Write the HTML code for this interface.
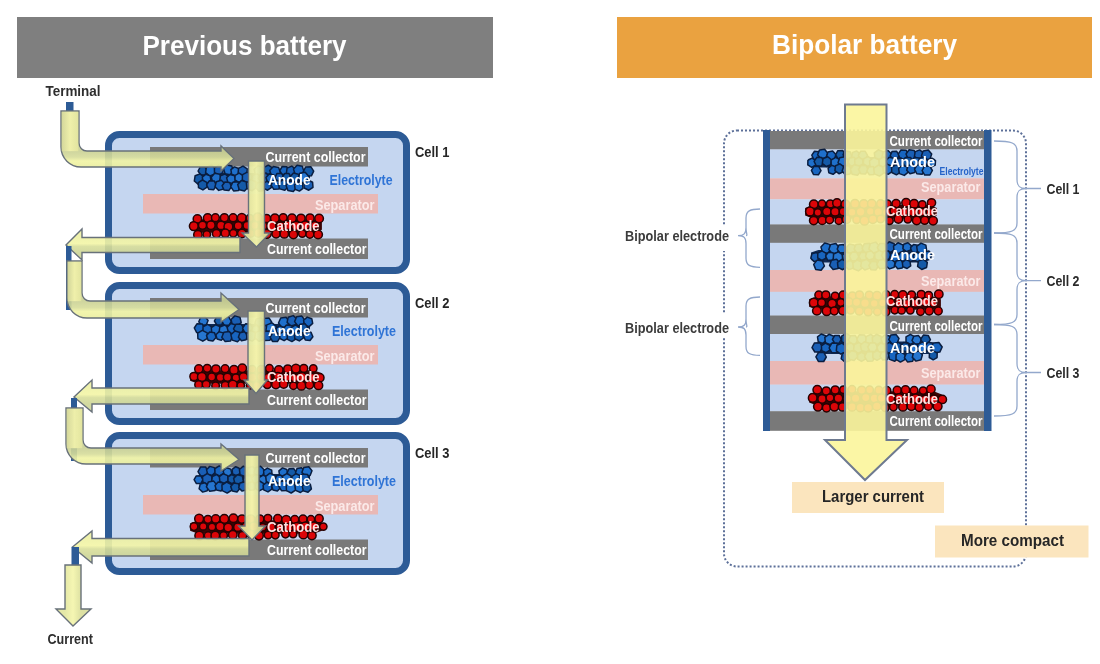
<!DOCTYPE html>
<html><head><meta charset="utf-8"><style>
html,body{margin:0;padding:0;background:#fff;width:1100px;height:664px;overflow:hidden;position:relative;font-family:"Liberation Sans",sans-serif;}
</style></head><body>
<svg width="1100" height="664" viewBox="0 0 1100 664" style="position:absolute;left:0;top:0;filter:blur(0.45px)">
<defs>
<linearGradient id="ag" x1="0" y1="0" x2="0" y2="1"><stop offset="0" stop-color="#dcdc92"/><stop offset="0.55" stop-color="#f8f59a"/><stop offset="1" stop-color="#ecea98"/></linearGradient>
<linearGradient id="agv" x1="0" y1="0" x2="1" y2="0"><stop offset="0" stop-color="#dcdc92"/><stop offset="0.55" stop-color="#f8f59a"/><stop offset="1" stop-color="#ecea98"/></linearGradient>
</defs>
<g font-family='"Liberation Sans", sans-serif'>
<rect x="17" y="17" width="476" height="61" fill="#7f7f7f"/>
<text x="142.5" y="54.5" font-size="27" fill="#ffffff" font-weight="bold" text-anchor="start" textLength="204" lengthAdjust="spacingAndGlyphs">Previous battery</text>
<rect x="617" y="17" width="475" height="61" fill="#eaa240"/>
<text x="772" y="53.5" font-size="27" fill="#ffffff" font-weight="bold" text-anchor="start" textLength="185" lengthAdjust="spacingAndGlyphs">Bipolar battery</text>
<text x="45.5" y="95.6" font-size="14" fill="#2e2e2e" font-weight="bold" text-anchor="start" textLength="55" lengthAdjust="spacingAndGlyphs">Terminal</text>
<text x="47.5" y="644" font-size="14" fill="#2e2e2e" font-weight="bold" text-anchor="start" textLength="45.5" lengthAdjust="spacingAndGlyphs">Current</text>
<g transform="translate(0,0)">
<rect x="108.5" y="134.5" width="298" height="136" rx="11" fill="#c5d6f0" stroke="#2d5b96" stroke-width="7"/>
<rect x="150" y="147" width="218" height="19.5" fill="#797979"/>
<rect x="143" y="194" width="235" height="19.5" fill="#e9b8b5"/>
<rect x="150" y="238.5" width="218" height="20.5" fill="#797979"/>
<g stroke="#0a1e40" stroke-width="1.5" stroke-linejoin="round"><polygon points="196.0,175.1 203.1,173.0 210.2,173.0 217.4,173.0 224.5,173.0 231.6,173.0 238.8,173.0 245.9,173.0 253.0,173.0 260.1,173.0 267.2,173.0 274.4,173.0 281.5,173.0 288.6,173.0 295.8,173.0 302.9,173.0 310.0,175.1 310.0,181.4 302.9,183.5 295.8,183.5 288.6,183.5 281.5,183.5 274.4,183.5 267.2,183.5 260.1,183.5 253.0,183.5 245.9,183.5 238.8,183.5 231.6,183.5 224.5,183.5 217.4,183.5 210.2,183.5 203.1,183.5 196.0,181.4" fill="#0f2a55" stroke="none"/><polygon points="200.6,174.9 198.1,171.0 200.2,167.0 204.7,166.7 207.2,170.6 205.1,174.7" fill="#145aa8"/><polygon points="215.0,174.0 209.8,176.0 205.6,172.6 206.4,167.2 211.5,165.2 215.8,168.6" fill="#1f70cc"/><polygon points="214.5,172.7 214.4,167.8 218.6,165.3 222.9,167.7 223.0,172.6 218.8,175.1" fill="#1a5fb5"/><polygon points="230.1,174.7 225.1,173.7 223.5,168.8 226.8,165.0 231.8,166.0 233.4,170.8" fill="#1f70cc"/><polygon points="239.4,173.0 235.8,175.9 231.6,174.2 230.9,169.7 234.4,166.9 238.7,168.5" fill="#1f70cc"/><polygon points="246.9,174.0 242.4,176.2 238.1,173.4 238.5,168.3 243.0,166.1 247.3,168.9" fill="#1a5fb5"/><polygon points="260.3,176.0 255.3,174.5 254.1,169.4 258.0,165.8 262.9,167.4 264.1,172.4" fill="#2676d0"/><polygon points="272.0,172.4 267.9,174.6 263.9,172.1 264.1,167.4 268.3,165.2 272.2,167.7" fill="#145aa8"/><polygon points="271.5,175.8 269.7,170.6 273.3,166.5 278.7,167.6 280.4,172.8 276.8,176.9" fill="#1865c0"/><polygon points="286.6,174.6 282.0,174.5 279.8,170.5 282.2,166.5 286.8,166.7 289.0,170.7" fill="#1865c0"/><polygon points="286.4,173.1 287.1,168.0 291.8,166.1 295.8,169.2 295.2,174.2 290.5,176.2" fill="#1a5fb5"/><polygon points="303.9,171.4 300.3,175.4 295.1,174.2 293.5,169.1 297.1,165.2 302.3,166.3" fill="#1865c0"/><polygon points="306.1,176.1 303.3,171.7 305.6,167.0 310.8,166.7 313.7,171.1 311.4,175.8" fill="#145aa8"/><polygon points="194.3,181.0 195.1,175.8 200.1,173.9 204.1,177.3 203.2,182.5 198.3,184.3" fill="#145aa8"/><polygon points="210.9,180.4 207.3,183.3 203.0,181.7 202.3,177.1 205.9,174.2 210.2,175.9" fill="#1f70cc"/><polygon points="218.0,183.3 212.8,182.2 211.2,177.2 214.7,173.2 219.8,174.3 221.5,179.3" fill="#1f70cc"/><polygon points="223.5,183.8 219.7,180.7 220.4,175.8 225.0,174.0 228.9,177.1 228.1,182.0" fill="#1a5fb5"/><polygon points="232.5,183.6 227.9,182.4 226.6,177.8 230.0,174.5 234.6,175.7 235.8,180.2" fill="#1f70cc"/><polygon points="242.9,180.1 238.8,182.3 234.9,179.9 235.1,175.3 239.1,173.1 243.0,175.5" fill="#2676d0"/><polygon points="251.6,180.5 246.8,182.9 242.3,180.0 242.5,174.6 247.3,172.2 251.9,175.1" fill="#1a5fb5"/><polygon points="255.4,183.4 251.8,180.1 252.8,175.4 257.4,173.9 261.0,177.1 260.0,181.9" fill="#1a5fb5"/><polygon points="261.4,183.1 258.4,178.4 261.0,173.5 266.6,173.3 269.5,178.0 266.9,182.9" fill="#1a5fb5"/><polygon points="272.2,183.1 267.5,182.1 265.9,177.5 269.2,173.9 274.0,174.9 275.5,179.5" fill="#1865c0"/><polygon points="274.8,177.7 276.9,173.6 281.5,173.4 284.0,177.2 281.9,181.4 277.3,181.6" fill="#1a5fb5"/><polygon points="291.3,177.5 289.0,181.3 284.6,181.3 282.3,177.4 284.6,173.6 289.0,173.6" fill="#145aa8"/><polygon points="299.9,179.1 296.4,182.9 291.4,181.8 289.9,176.9 293.4,173.1 298.4,174.2" fill="#145aa8"/><polygon points="301.7,182.7 298.0,178.6 299.8,173.3 305.2,172.2 308.9,176.4 307.1,181.6" fill="#2676d0"/><polygon points="202.9,189.9 198.5,187.6 198.3,182.7 202.4,180.0 206.8,182.3 207.1,187.2" fill="#145aa8"/><polygon points="208.7,189.3 206.6,184.8 209.4,180.7 214.4,181.1 216.5,185.6 213.7,189.7" fill="#1a5fb5"/><polygon points="215.0,186.7 216.3,181.7 221.3,180.3 225.1,184.0 223.7,189.0 218.7,190.4" fill="#1865c0"/><polygon points="228.8,190.6 224.1,190.1 222.1,185.8 224.9,182.0 229.6,182.5 231.5,186.8" fill="#1a5fb5"/><polygon points="233.6,190.9 230.7,186.8 232.8,182.3 237.8,181.8 240.7,185.9 238.6,190.4" fill="#1f70cc"/><polygon points="239.3,189.7 237.7,184.6 241.4,180.6 246.6,181.9 248.2,187.0 244.5,190.9" fill="#145aa8"/><polygon points="247.0,188.6 246.3,183.0 250.7,179.6 255.9,181.7 256.6,187.3 252.2,190.7" fill="#1a5fb5"/><polygon points="255.6,187.6 257.2,183.0 262.1,182.0 265.3,185.7 263.7,190.4 258.9,191.3" fill="#145aa8"/><polygon points="267.6,190.2 263.5,188.3 263.1,183.8 266.8,181.2 270.9,183.1 271.3,187.6" fill="#1a5fb5"/><polygon points="273.8,189.3 271.1,185.1 273.4,180.7 278.4,180.5 281.1,184.7 278.8,189.1" fill="#1865c0"/><polygon points="279.7,188.9 278.3,183.7 282.1,179.9 287.2,181.3 288.6,186.5 284.8,190.3" fill="#145aa8"/><polygon points="287.9,190.5 286.0,185.3 289.5,181.0 295.0,182.0 296.9,187.2 293.3,191.4" fill="#1865c0"/><polygon points="303.0,188.3 299.4,191.1 295.1,189.3 294.6,184.8 298.2,182.0 302.5,183.8" fill="#1f70cc"/><polygon points="308.8,190.2 304.2,188.0 303.8,182.9 308.0,180.0 312.6,182.2 313.0,187.3" fill="#1a5fb5"/></g>
<g fill="#dc0508" stroke="#260202" stroke-width="1.5"><polygon points="190.1,222.3 198.3,219.3 206.6,219.3 214.8,219.3 223.1,219.3 231.3,219.3 239.5,219.3 247.8,219.3 256.0,219.3 264.2,219.3 272.5,219.3 280.7,219.3 288.9,219.3 297.2,219.3 305.4,219.3 313.7,219.3 321.9,222.3 321.9,229.7 313.7,232.7 305.4,232.7 297.2,232.7 288.9,232.7 280.7,232.7 272.5,232.7 264.2,232.7 256.0,232.7 247.8,232.7 239.5,232.7 231.3,232.7 223.1,232.7 214.8,232.7 206.6,232.7 198.3,232.7 190.1,229.7" fill="#3a0505" stroke="none"/><circle cx="197.4" cy="218.9" r="4.2"/><circle cx="207.7" cy="218.0" r="4.3"/><circle cx="215.4" cy="217.7" r="3.9"/><circle cx="224.4" cy="217.7" r="4.0"/><circle cx="233.1" cy="217.8" r="4.0"/><circle cx="241.8" cy="218.0" r="4.4"/><circle cx="249.8" cy="218.1" r="3.7"/><circle cx="257.7" cy="217.2" r="4.3"/><circle cx="266.5" cy="218.5" r="4.1"/><circle cx="274.9" cy="218.2" r="4.3"/><circle cx="283.2" cy="217.6" r="3.9"/><circle cx="292.0" cy="218.2" r="4.3"/><circle cx="301.0" cy="218.3" r="4.1"/><circle cx="310.0" cy="218.0" r="4.1"/><circle cx="319.1" cy="218.5" r="4.3"/><circle cx="193.8" cy="226.1" r="4.4"/><circle cx="202.5" cy="225.3" r="4.0"/><circle cx="210.9" cy="225.2" r="4.2"/><circle cx="221.0" cy="225.4" r="4.2"/><circle cx="228.4" cy="226.7" r="4.4"/><circle cx="238.2" cy="225.8" r="4.0"/><circle cx="247.1" cy="225.4" r="4.0"/><circle cx="254.8" cy="225.5" r="3.9"/><circle cx="263.1" cy="226.1" r="4.0"/><circle cx="271.8" cy="226.2" r="4.1"/><circle cx="281.0" cy="226.5" r="4.4"/><circle cx="287.9" cy="225.2" r="4.3"/><circle cx="296.0" cy="225.9" r="4.4"/><circle cx="305.2" cy="225.4" r="4.4"/><circle cx="314.7" cy="225.3" r="3.7"/><circle cx="197.9" cy="234.7" r="4.2"/><circle cx="206.8" cy="234.5" r="3.7"/><circle cx="216.5" cy="233.6" r="4.1"/><circle cx="225.3" cy="233.2" r="4.1"/><circle cx="233.3" cy="233.3" r="3.7"/><circle cx="241.9" cy="233.5" r="4.3"/><circle cx="250.7" cy="233.3" r="3.9"/><circle cx="258.3" cy="233.0" r="4.2"/><circle cx="266.8" cy="233.9" r="4.4"/><circle cx="276.1" cy="233.8" r="4.1"/><circle cx="284.3" cy="233.9" r="4.2"/><circle cx="293.4" cy="234.5" r="4.2"/><circle cx="302.3" cy="233.6" r="3.7"/><circle cx="309.9" cy="234.3" r="3.9"/><circle cx="318.1" cy="234.5" r="4.3"/></g>
<text x="265.5" y="162" font-size="14" fill="#ffffff" font-weight="bold" text-anchor="start" textLength="100" lengthAdjust="spacingAndGlyphs">Current collector</text>
<text x="268" y="184.5" font-size="14" fill="#ffffff" font-weight="bold" text-anchor="start" textLength="42.5" lengthAdjust="spacingAndGlyphs">Anode</text>
<text x="329.5" y="184.5" font-size="14" fill="#2f74d6" font-weight="bold" text-anchor="start" textLength="63" lengthAdjust="spacingAndGlyphs">Electrolyte</text>
<text x="315" y="209.5" font-size="14" fill="#fbe9e8" font-weight="bold" text-anchor="start" textLength="59.5" lengthAdjust="spacingAndGlyphs">Separator</text>
<text x="267" y="230.5" font-size="14" fill="#fde0e0" font-weight="bold" text-anchor="start" textLength="52.5" lengthAdjust="spacingAndGlyphs">Cathode</text>
<text x="267" y="254" font-size="14" fill="#ffffff" font-weight="bold" text-anchor="start" textLength="99.5" lengthAdjust="spacingAndGlyphs">Current collector</text>
<text x="415" y="157" font-size="14" fill="#262626" font-weight="bold" text-anchor="start" textLength="34.5" lengthAdjust="spacingAndGlyphs">Cell 1</text>
<linearGradient id="g1" gradientUnits="userSpaceOnUse" x1="248.5" y1="0" x2="264.5" y2="0"><stop offset="0" stop-color="#e2e69e"/><stop offset="0.5" stop-color="#f4f5aa"/><stop offset="1" stop-color="#d9dd98"/></linearGradient>
<path d="M248.5,161 H264.5 V233 H270 L256.5,247 L242,233 H248.5 Z" fill="url(#g1)" fill-opacity="0.95" stroke="#68717a" stroke-width="1.4"/>
</g>
<g transform="translate(0,151)">
<rect x="108.5" y="134.5" width="298" height="136" rx="11" fill="#c5d6f0" stroke="#2d5b96" stroke-width="7"/>
<rect x="150" y="147" width="218" height="19.5" fill="#797979"/>
<rect x="143" y="194" width="235" height="19.5" fill="#e9b8b5"/>
<rect x="150" y="238.5" width="218" height="20.5" fill="#797979"/>
<g stroke="#0a1e40" stroke-width="1.5" stroke-linejoin="round"><polygon points="196.0,175.1 203.1,173.0 210.2,173.0 217.4,173.0 224.5,173.0 231.6,173.0 238.8,173.0 245.9,173.0 253.0,173.0 260.1,173.0 267.2,173.0 274.4,173.0 281.5,173.0 288.6,173.0 295.8,173.0 302.9,173.0 310.0,175.1 310.0,181.4 302.9,183.5 295.8,183.5 288.6,183.5 281.5,183.5 274.4,183.5 267.2,183.5 260.1,183.5 253.0,183.5 245.9,183.5 238.8,183.5 231.6,183.5 224.5,183.5 217.4,183.5 210.2,183.5 203.1,183.5 196.0,181.4" fill="#0f2a55" stroke="none"/><polygon points="206.3,173.8 201.6,174.4 198.8,170.7 200.6,166.3 205.2,165.7 208.1,169.5" fill="#2676d0"/><polygon points="214.4,170.0 216.6,165.8 221.3,165.6 223.9,169.6 221.7,173.9 216.9,174.1" fill="#145aa8"/><polygon points="229.0,174.3 224.3,174.3 222.0,170.3 224.4,166.3 229.0,166.3 231.3,170.3" fill="#1f70cc"/><polygon points="241.2,171.5 237.4,175.2 232.3,173.7 231.0,168.5 234.9,164.9 240.0,166.4" fill="#1a5fb5"/><polygon points="258.3,175.8 255.0,172.4 256.3,167.9 260.8,166.7 264.1,170.1 262.8,174.6" fill="#1a5fb5"/><polygon points="262.0,171.4 264.2,167.2 269.0,166.9 271.6,171.0 269.4,175.2 264.6,175.5" fill="#1f70cc"/><polygon points="281.8,176.4 278.5,172.0 280.7,167.0 286.1,166.3 289.4,170.7 287.3,175.7" fill="#1f70cc"/><polygon points="291.0,175.0 287.1,171.4 288.2,166.2 293.3,164.6 297.2,168.2 296.0,173.4" fill="#1a5fb5"/><polygon points="294.6,170.6 296.6,165.8 301.8,165.1 305.0,169.2 303.0,174.1 297.8,174.8" fill="#1865c0"/><polygon points="312.7,172.4 309.1,175.6 304.5,174.0 303.6,169.3 307.2,166.1 311.8,167.7" fill="#1865c0"/><polygon points="196.7,181.6 194.3,177.0 197.1,172.7 202.2,172.9 204.6,177.5 201.9,181.8" fill="#1865c0"/><polygon points="207.5,183.9 203.0,181.2 203.0,175.9 207.6,173.3 212.2,176.0 212.1,181.3" fill="#1865c0"/><polygon points="216.6,184.2 211.8,182.0 211.3,176.7 215.7,173.7 220.5,175.9 220.9,181.2" fill="#1f70cc"/><polygon points="228.2,182.4 223.3,184.4 219.1,181.3 219.8,176.0 224.6,174.0 228.8,177.1" fill="#2676d0"/><polygon points="237.6,179.1 233.8,183.0 228.6,181.7 227.1,176.5 230.8,172.6 236.1,173.9" fill="#1865c0"/><polygon points="236.4,182.2 233.5,177.9 235.8,173.3 240.9,172.9 243.8,177.2 241.6,181.8" fill="#145aa8"/><polygon points="244.8,181.8 242.6,177.1 245.5,172.8 250.7,173.3 252.9,177.9 250.0,182.2" fill="#2676d0"/><polygon points="258.8,182.0 254.4,182.9 251.5,179.5 252.9,175.3 257.3,174.4 260.2,177.7" fill="#2676d0"/><polygon points="263.2,182.9 259.2,180.3 259.4,175.6 263.7,173.4 267.7,176.0 267.4,180.8" fill="#1865c0"/><polygon points="270.3,182.9 265.9,179.4 266.8,173.9 272.0,171.9 276.3,175.4 275.5,180.9" fill="#2676d0"/><polygon points="280.7,183.6 276.6,181.9 276.1,177.5 279.6,174.8 283.7,176.5 284.2,180.9" fill="#2676d0"/><polygon points="290.3,184.4 284.8,183.4 282.8,178.2 286.4,173.9 291.9,174.8 293.8,180.0" fill="#1865c0"/><polygon points="300.1,181.4 295.9,184.2 291.3,182.0 290.9,177.0 295.1,174.1 299.8,176.3" fill="#1f70cc"/><polygon points="301.0,182.2 298.0,178.0 300.0,173.3 305.1,172.8 308.2,176.9 306.1,181.6" fill="#145aa8"/><polygon points="202.8,190.2 197.9,187.7 197.7,182.2 202.3,179.3 207.2,181.8 207.4,187.3" fill="#2676d0"/><polygon points="208.1,189.2 206.5,184.6 209.7,180.9 214.5,181.8 216.1,186.4 212.9,190.1" fill="#1865c0"/><polygon points="217.1,188.1 215.9,183.8 219.0,180.7 223.3,181.9 224.4,186.1 221.3,189.2" fill="#1f70cc"/><polygon points="230.6,189.9 225.2,190.6 221.8,186.3 223.9,181.2 229.3,180.5 232.7,184.8" fill="#1a5fb5"/><polygon points="232.2,189.1 230.9,183.8 234.9,180.0 240.2,181.5 241.5,186.8 237.5,190.7" fill="#1865c0"/><polygon points="238.4,186.2 239.9,181.7 244.5,180.8 247.6,184.3 246.1,188.8 241.5,189.8" fill="#1a5fb5"/><polygon points="247.2,188.1 246.4,182.9 250.6,179.5 255.5,181.5 256.3,186.7 252.2,190.1" fill="#2676d0"/><polygon points="259.1,190.3 254.8,186.8 255.6,181.4 260.8,179.4 265.1,182.9 264.2,188.3" fill="#2676d0"/><polygon points="264.7,189.6 261.8,185.2 264.1,180.5 269.4,180.1 272.4,184.5 270.0,189.2" fill="#1a5fb5"/><polygon points="277.4,190.6 272.5,190.4 270.1,186.1 272.8,181.8 277.7,182.0 280.1,186.4" fill="#145aa8"/><polygon points="284.1,189.7 279.9,187.5 279.7,182.9 283.6,180.3 287.8,182.4 288.0,187.1" fill="#1f70cc"/><polygon points="287.4,188.4 287.1,183.5 291.3,180.7 295.8,182.9 296.1,187.9 291.9,190.6" fill="#145aa8"/><polygon points="303.4,187.0 299.3,189.9 294.8,187.8 294.4,182.8 298.5,180.0 302.9,182.1" fill="#145aa8"/><polygon points="310.0,189.5 305.3,189.0 303.4,184.6 306.2,180.8 311.0,181.3 312.9,185.7" fill="#1865c0"/></g>
<g fill="#dc0508" stroke="#260202" stroke-width="1.5"><polygon points="190.1,222.3 198.3,219.3 206.6,219.3 214.8,219.3 223.1,219.3 231.3,219.3 239.5,219.3 247.8,219.3 256.0,219.3 264.2,219.3 272.5,219.3 280.7,219.3 288.9,219.3 297.2,219.3 305.4,219.3 313.7,219.3 321.9,222.3 321.9,229.7 313.7,232.7 305.4,232.7 297.2,232.7 288.9,232.7 280.7,232.7 272.5,232.7 264.2,232.7 256.0,232.7 247.8,232.7 239.5,232.7 231.3,232.7 223.1,232.7 214.8,232.7 206.6,232.7 198.3,232.7 190.1,229.7" fill="#3a0505" stroke="none"/><circle cx="198.8" cy="217.9" r="4.1"/><circle cx="207.2" cy="217.3" r="3.9"/><circle cx="215.9" cy="218.1" r="4.2"/><circle cx="225.1" cy="217.7" r="3.9"/><circle cx="234.0" cy="218.9" r="4.3"/><circle cx="242.3" cy="217.3" r="4.2"/><circle cx="252.2" cy="218.3" r="3.7"/><circle cx="261.5" cy="218.7" r="4.3"/><circle cx="269.4" cy="217.4" r="3.8"/><circle cx="278.8" cy="218.9" r="4.2"/><circle cx="287.8" cy="218.0" r="4.1"/><circle cx="295.9" cy="217.6" r="4.4"/><circle cx="303.8" cy="217.4" r="3.9"/><circle cx="313.3" cy="217.4" r="3.7"/><circle cx="194.0" cy="225.5" r="4.1"/><circle cx="201.9" cy="225.9" r="4.4"/><circle cx="211.7" cy="226.0" r="3.9"/><circle cx="220.2" cy="226.4" r="3.9"/><circle cx="227.4" cy="226.3" r="4.0"/><circle cx="236.0" cy="226.8" r="3.9"/><circle cx="243.5" cy="225.9" r="4.2"/><circle cx="252.6" cy="226.4" r="4.1"/><circle cx="261.2" cy="225.7" r="4.3"/><circle cx="268.1" cy="226.5" r="3.9"/><circle cx="277.8" cy="225.4" r="3.9"/><circle cx="286.6" cy="226.8" r="3.8"/><circle cx="294.3" cy="226.9" r="3.8"/><circle cx="302.1" cy="225.8" r="4.4"/><circle cx="312.3" cy="226.9" r="4.4"/><circle cx="319.8" cy="226.8" r="4.2"/><circle cx="198.7" cy="233.7" r="3.9"/><circle cx="206.2" cy="233.5" r="3.9"/><circle cx="215.6" cy="234.7" r="3.8"/><circle cx="225.3" cy="234.5" r="4.0"/><circle cx="232.8" cy="233.7" r="4.4"/><circle cx="240.8" cy="234.6" r="3.7"/><circle cx="250.1" cy="234.4" r="3.7"/><circle cx="256.9" cy="234.7" r="3.9"/><circle cx="267.3" cy="233.6" r="3.9"/><circle cx="275.9" cy="233.5" r="4.2"/><circle cx="283.7" cy="233.0" r="4.2"/><circle cx="293.4" cy="234.7" r="3.7"/><circle cx="301.4" cy="234.7" r="4.4"/><circle cx="309.5" cy="233.8" r="4.1"/><circle cx="318.5" cy="234.4" r="4.2"/></g>
<text x="265.5" y="162" font-size="14" fill="#ffffff" font-weight="bold" text-anchor="start" textLength="100" lengthAdjust="spacingAndGlyphs">Current collector</text>
<text x="268" y="184.5" font-size="14" fill="#ffffff" font-weight="bold" text-anchor="start" textLength="42.5" lengthAdjust="spacingAndGlyphs">Anode</text>
<text x="332" y="184.5" font-size="14" fill="#2f74d6" font-weight="bold" text-anchor="start" textLength="64" lengthAdjust="spacingAndGlyphs">Electrolyte</text>
<text x="315" y="209.5" font-size="14" fill="#fbe9e8" font-weight="bold" text-anchor="start" textLength="59.5" lengthAdjust="spacingAndGlyphs">Separator</text>
<text x="267" y="230.5" font-size="14" fill="#fde0e0" font-weight="bold" text-anchor="start" textLength="52.5" lengthAdjust="spacingAndGlyphs">Cathode</text>
<text x="267" y="254" font-size="14" fill="#ffffff" font-weight="bold" text-anchor="start" textLength="99.5" lengthAdjust="spacingAndGlyphs">Current collector</text>
<text x="415" y="157" font-size="14" fill="#262626" font-weight="bold" text-anchor="start" textLength="34.5" lengthAdjust="spacingAndGlyphs">Cell 2</text>
<linearGradient id="g2" gradientUnits="userSpaceOnUse" x1="248" y1="0" x2="264.5" y2="0"><stop offset="0" stop-color="#e2e69e"/><stop offset="0.5" stop-color="#f4f5aa"/><stop offset="1" stop-color="#d9dd98"/></linearGradient>
<path d="M248,160 H264.5 V229 H267.5 L256,242.5 L244,229 H248 Z" fill="url(#g2)" fill-opacity="0.95" stroke="#68717a" stroke-width="1.4"/>
</g>
<g transform="translate(0,301)">
<rect x="108.5" y="134.5" width="298" height="136" rx="11" fill="#c5d6f0" stroke="#2d5b96" stroke-width="7"/>
<rect x="150" y="147" width="218" height="19.5" fill="#797979"/>
<rect x="143" y="194" width="235" height="19.5" fill="#e9b8b5"/>
<rect x="150" y="238.5" width="218" height="20.5" fill="#797979"/>
<g stroke="#0a1e40" stroke-width="1.5" stroke-linejoin="round"><polygon points="196.0,175.1 203.1,173.0 210.2,173.0 217.4,173.0 224.5,173.0 231.6,173.0 238.8,173.0 245.9,173.0 253.0,173.0 260.1,173.0 267.2,173.0 274.4,173.0 281.5,173.0 288.6,173.0 295.8,173.0 302.9,173.0 310.0,175.1 310.0,181.4 302.9,183.5 295.8,183.5 288.6,183.5 281.5,183.5 274.4,183.5 267.2,183.5 260.1,183.5 253.0,183.5 245.9,183.5 238.8,183.5 231.6,183.5 224.5,183.5 217.4,183.5 210.2,183.5 203.1,183.5 196.0,181.4" fill="#0f2a55" stroke="none"/><polygon points="205.8,174.9 200.7,175.0 198.0,170.6 200.5,166.1 205.6,166.0 208.3,170.4" fill="#1a5fb5"/><polygon points="207.7,173.1 206.5,168.6 209.8,165.4 214.3,166.6 215.5,171.1 212.2,174.4" fill="#1865c0"/><polygon points="223.8,172.4 219.4,175.0 215.0,172.6 214.9,167.5 219.3,164.9 223.7,167.4" fill="#1865c0"/><polygon points="231.8,172.5 228.5,175.6 224.2,174.2 223.2,169.8 226.5,166.8 230.8,168.1" fill="#2676d0"/><polygon points="236.8,174.7 232.6,173.0 232.1,168.4 235.7,165.7 239.9,167.5 240.5,172.0" fill="#1a5fb5"/><polygon points="249.0,172.3 244.9,175.5 240.1,173.6 239.4,168.4 243.4,165.2 248.3,167.1" fill="#1a5fb5"/><polygon points="254.6,173.6 250.0,174.6 246.8,171.2 248.2,166.7 252.7,165.6 256.0,169.1" fill="#1f70cc"/><polygon points="257.8,175.8 253.9,172.0 255.2,166.7 260.5,165.2 264.4,169.0 263.1,174.3" fill="#1f70cc"/><polygon points="264.0,174.4 263.6,169.7 267.4,167.1 271.7,169.1 272.0,173.7 268.2,176.4" fill="#1865c0"/><polygon points="284.0,176.1 279.6,174.5 278.9,169.9 282.5,166.9 286.9,168.5 287.6,173.2" fill="#1f70cc"/><polygon points="287.1,172.0 289.0,167.8 293.6,167.4 296.3,171.2 294.3,175.4 289.7,175.8" fill="#145aa8"/><polygon points="298.6,175.5 295.5,172.0 297.0,167.6 301.5,166.7 304.6,170.2 303.1,174.5" fill="#1865c0"/><polygon points="305.1,175.2 301.9,171.2 303.8,166.5 308.8,165.7 312.0,169.7 310.1,174.5" fill="#1f70cc"/><polygon points="194.1,178.7 196.3,174.9 200.8,174.9 203.0,178.7 200.8,182.6 196.4,182.6" fill="#1f70cc"/><polygon points="202.8,180.9 202.5,175.5 207.1,172.6 211.8,175.1 212.1,180.5 207.6,183.4" fill="#1a5fb5"/><polygon points="219.9,181.2 215.5,183.1 211.7,180.2 212.3,175.5 216.6,173.6 220.5,176.5" fill="#1865c0"/><polygon points="219.9,180.5 219.3,175.6 223.3,172.7 227.7,174.6 228.3,179.5 224.4,182.4" fill="#1a5fb5"/><polygon points="235.8,180.3 231.9,182.6 228.0,180.4 228.0,175.9 231.8,173.6 235.8,175.8" fill="#145aa8"/><polygon points="239.9,183.8 234.9,182.4 233.6,177.4 237.3,173.7 242.3,175.1 243.6,180.1" fill="#145aa8"/><polygon points="252.9,179.1 250.2,183.2 245.3,182.9 243.1,178.6 245.8,174.5 250.7,174.8" fill="#1f70cc"/><polygon points="257.8,182.8 253.1,181.7 251.6,177.0 255.0,173.5 259.7,174.6 261.1,179.2" fill="#1f70cc"/><polygon points="259.2,181.6 259.0,176.7 263.1,174.1 267.5,176.4 267.7,181.3 263.5,183.9" fill="#2676d0"/><polygon points="275.5,179.7 271.2,182.8 266.3,180.7 265.7,175.4 270.0,172.2 274.9,174.4" fill="#2676d0"/><polygon points="277.6,182.4 274.8,178.9 276.5,174.7 280.9,174.1 283.7,177.6 282.0,181.8" fill="#1f70cc"/><polygon points="291.1,179.7 286.9,182.2 282.7,179.9 282.6,175.0 286.8,172.6 291.0,174.9" fill="#2676d0"/><polygon points="292.4,180.5 291.9,175.5 296.0,172.7 300.5,174.8 301.0,179.7 296.9,182.6" fill="#1f70cc"/><polygon points="309.7,178.6 306.4,182.9 301.0,182.1 299.0,177.1 302.3,172.9 307.6,173.6" fill="#1a5fb5"/><polygon points="199.1,187.8 200.2,183.1 204.8,181.7 208.4,185.0 207.3,189.7 202.7,191.1" fill="#1f70cc"/><polygon points="209.7,190.2 206.4,185.9 208.4,180.9 213.7,180.1 217.1,184.4 215.1,189.4" fill="#2676d0"/><polygon points="221.0,189.9 216.4,189.0 215.0,184.6 218.1,181.1 222.7,182.1 224.1,186.5" fill="#1865c0"/><polygon points="222.2,189.6 221.9,184.0 226.6,181.0 231.5,183.5 231.9,189.0 227.2,192.1" fill="#1865c0"/><polygon points="237.0,191.0 232.3,190.1 230.7,185.6 233.8,181.9 238.5,182.8 240.1,187.3" fill="#145aa8"/><polygon points="246.7,188.8 242.1,190.1 238.7,186.7 239.9,182.1 244.5,180.9 247.9,184.2" fill="#1a5fb5"/><polygon points="249.9,189.3 247.1,185.9 248.7,181.8 253.1,181.1 255.9,184.6 254.2,188.7" fill="#1a5fb5"/><polygon points="263.6,187.6 259.2,189.9 255.1,187.3 255.3,182.3 259.6,180.0 263.8,182.7" fill="#1f70cc"/><polygon points="263.6,188.9 263.1,184.1 267.0,181.2 271.4,183.2 271.9,188.1 268.0,190.9" fill="#1865c0"/><polygon points="273.0,189.1 271.7,184.8 274.7,181.5 279.1,182.4 280.5,186.7 277.4,190.1" fill="#1865c0"/><polygon points="281.5,189.7 278.6,185.0 281.1,180.2 286.6,179.9 289.5,184.6 287.0,189.4" fill="#1865c0"/><polygon points="286.5,189.6 286.2,184.3 290.6,181.4 295.3,183.8 295.6,189.1 291.2,192.0" fill="#2676d0"/><polygon points="295.6,189.4 294.9,184.1 299.2,180.9 304.2,183.0 304.8,188.3 300.5,191.5" fill="#1f70cc"/><polygon points="303.3,189.9 302.2,185.2 305.7,181.9 310.3,183.2 311.4,187.9 308.0,191.2" fill="#145aa8"/></g>
<g fill="#dc0508" stroke="#260202" stroke-width="1.5"><polygon points="190.1,222.3 198.3,219.3 206.6,219.3 214.8,219.3 223.1,219.3 231.3,219.3 239.5,219.3 247.8,219.3 256.0,219.3 264.2,219.3 272.5,219.3 280.7,219.3 288.9,219.3 297.2,219.3 305.4,219.3 313.7,219.3 321.9,222.3 321.9,229.7 313.7,232.7 305.4,232.7 297.2,232.7 288.9,232.7 280.7,232.7 272.5,232.7 264.2,232.7 256.0,232.7 247.8,232.7 239.5,232.7 231.3,232.7 223.1,232.7 214.8,232.7 206.6,232.7 198.3,232.7 190.1,229.7" fill="#3a0505" stroke="none"/><circle cx="199.1" cy="217.7" r="4.4"/><circle cx="207.9" cy="218.3" r="3.9"/><circle cx="215.7" cy="217.9" r="4.2"/><circle cx="224.3" cy="217.9" r="4.3"/><circle cx="233.4" cy="217.3" r="4.3"/><circle cx="242.0" cy="218.1" r="4.2"/><circle cx="250.7" cy="218.2" r="4.3"/><circle cx="259.8" cy="217.9" r="4.0"/><circle cx="267.9" cy="217.3" r="3.9"/><circle cx="277.8" cy="217.7" r="4.1"/><circle cx="286.2" cy="218.8" r="4.4"/><circle cx="294.8" cy="218.5" r="3.9"/><circle cx="303.0" cy="218.0" r="4.0"/><circle cx="310.9" cy="218.3" r="3.7"/><circle cx="319.1" cy="217.7" r="4.1"/><circle cx="194.0" cy="225.6" r="3.8"/><circle cx="203.2" cy="225.4" r="3.7"/><circle cx="212.0" cy="225.9" r="3.7"/><circle cx="220.1" cy="225.6" r="4.3"/><circle cx="228.2" cy="226.6" r="4.3"/><circle cx="237.8" cy="226.2" r="4.1"/><circle cx="245.7" cy="225.1" r="3.7"/><circle cx="253.8" cy="225.4" r="4.4"/><circle cx="262.7" cy="226.3" r="3.8"/><circle cx="271.0" cy="226.3" r="4.2"/><circle cx="279.7" cy="226.0" r="3.7"/><circle cx="289.2" cy="226.4" r="4.0"/><circle cx="296.7" cy="225.9" r="4.4"/><circle cx="305.3" cy="225.4" r="4.4"/><circle cx="313.7" cy="225.3" r="4.3"/><circle cx="323.3" cy="225.6" r="3.7"/><circle cx="199.3" cy="234.7" r="4.4"/><circle cx="208.1" cy="234.6" r="3.8"/><circle cx="215.3" cy="234.6" r="4.3"/><circle cx="223.6" cy="234.6" r="3.8"/><circle cx="232.8" cy="233.7" r="4.3"/><circle cx="242.6" cy="234.5" r="4.1"/><circle cx="250.4" cy="233.0" r="3.7"/><circle cx="259.0" cy="234.6" r="4.3"/><circle cx="268.1" cy="234.0" r="3.8"/><circle cx="275.3" cy="234.1" r="3.8"/><circle cx="285.5" cy="233.1" r="3.8"/><circle cx="293.1" cy="233.1" r="3.7"/><circle cx="303.4" cy="233.4" r="4.4"/><circle cx="311.9" cy="234.6" r="4.2"/></g>
<text x="265.5" y="162" font-size="14" fill="#ffffff" font-weight="bold" text-anchor="start" textLength="100" lengthAdjust="spacingAndGlyphs">Current collector</text>
<text x="268" y="184.5" font-size="14" fill="#ffffff" font-weight="bold" text-anchor="start" textLength="42.5" lengthAdjust="spacingAndGlyphs">Anode</text>
<text x="332" y="184.5" font-size="14" fill="#2f74d6" font-weight="bold" text-anchor="start" textLength="64" lengthAdjust="spacingAndGlyphs">Electrolyte</text>
<text x="315" y="209.5" font-size="14" fill="#fbe9e8" font-weight="bold" text-anchor="start" textLength="59.5" lengthAdjust="spacingAndGlyphs">Separator</text>
<text x="267" y="230.5" font-size="14" fill="#fde0e0" font-weight="bold" text-anchor="start" textLength="52.5" lengthAdjust="spacingAndGlyphs">Cathode</text>
<text x="267" y="254" font-size="14" fill="#ffffff" font-weight="bold" text-anchor="start" textLength="99.5" lengthAdjust="spacingAndGlyphs">Current collector</text>
<text x="415" y="157" font-size="14" fill="#262626" font-weight="bold" text-anchor="start" textLength="34.5" lengthAdjust="spacingAndGlyphs">Cell 3</text>
<linearGradient id="g3" gradientUnits="userSpaceOnUse" x1="245" y1="0" x2="259" y2="0"><stop offset="0" stop-color="#e2e69e"/><stop offset="0.5" stop-color="#f4f5aa"/><stop offset="1" stop-color="#d9dd98"/></linearGradient>
<path d="M245,154 H259 V225 H265.5 L252,239 L238.5,225 H245 Z" fill="url(#g3)" fill-opacity="0.95" stroke="#68717a" stroke-width="1.4"/>
</g>
<rect x="66" y="102" width="7.5" height="9" fill="#2d5b96"/>
<linearGradient id="g4" gradientUnits="userSpaceOnUse" x1="0" y1="151" x2="0" y2="167"><stop offset="0" stop-color="#c9d094"/><stop offset="0.38" stop-color="#d6dc9a"/><stop offset="0.62" stop-color="#f1f4a4"/><stop offset="1" stop-color="#eaee9e"/></linearGradient>
<path d="M61,111 V147 A20,20 0 0 0 81,167 H221 V171 L234,158.5 L221,146 V151 H87 A8,8 0 0 1 79,143 V111 Z" fill="url(#g4)" fill-opacity="0.9" stroke="#68717a" stroke-width="1.4"/>
<linearGradient id="g5" gradientUnits="userSpaceOnUse" x1="61" y1="0" x2="79" y2="0"><stop offset="0" stop-color="#d3d69a"/><stop offset="0.5" stop-color="#f3f3ac"/><stop offset="1" stop-color="#e3e59f"/></linearGradient>
<rect x="61.7" y="111.7" width="16.6" height="39.5" fill="url(#g5)" fill-opacity="0.9"/>
<linearGradient id="g6" gradientUnits="userSpaceOnUse" x1="0" y1="237.5" x2="0" y2="252.5"><stop offset="0" stop-color="#eef1a4"/><stop offset="0.4" stop-color="#f3f5a6"/><stop offset="0.6" stop-color="#d8de9a"/><stop offset="1" stop-color="#cdd596"/></linearGradient>
<path d="M240,237.5 H82 V229 L66,245 L82,260 V252.5 H240 Z" fill="url(#g6)" fill-opacity="0.9" stroke="#68717a" stroke-width="1.4"/>
<rect x="66" y="246" width="5.5" height="64" fill="#2d5b96"/>
<linearGradient id="g7" gradientUnits="userSpaceOnUse" x1="0" y1="301" x2="0" y2="318"><stop offset="0" stop-color="#c9d094"/><stop offset="0.38" stop-color="#d6dc9a"/><stop offset="0.62" stop-color="#f1f4a4"/><stop offset="1" stop-color="#eaee9e"/></linearGradient>
<path d="M67,261 V298 A20,20 0 0 0 87,318 H221 V322 L239,309.5 L221,293 V301 H90 A8,8 0 0 1 82,293 V261 Z" fill="url(#g7)" fill-opacity="0.9" stroke="#68717a" stroke-width="1.4"/>
<linearGradient id="g8" gradientUnits="userSpaceOnUse" x1="67" y1="0" x2="82" y2="0"><stop offset="0" stop-color="#d3d69a"/><stop offset="0.5" stop-color="#f3f3ac"/><stop offset="1" stop-color="#e3e59f"/></linearGradient>
<rect x="67.7" y="261.7" width="13.6" height="39.5" fill="url(#g8)" fill-opacity="0.9"/>
<linearGradient id="g9" gradientUnits="userSpaceOnUse" x1="0" y1="388" x2="0" y2="404"><stop offset="0" stop-color="#eef1a4"/><stop offset="0.4" stop-color="#f3f5a6"/><stop offset="0.6" stop-color="#d8de9a"/><stop offset="1" stop-color="#cdd596"/></linearGradient>
<path d="M249,388 H92 V380 L74,397 L92,412 V404 H249 Z" fill="url(#g9)" fill-opacity="0.9" stroke="#68717a" stroke-width="1.4"/>
<rect x="71" y="398" width="6" height="63" fill="#2d5b96"/>
<linearGradient id="g10" gradientUnits="userSpaceOnUse" x1="0" y1="448" x2="0" y2="464"><stop offset="0" stop-color="#c9d094"/><stop offset="0.38" stop-color="#d6dc9a"/><stop offset="0.62" stop-color="#f1f4a4"/><stop offset="1" stop-color="#eaee9e"/></linearGradient>
<path d="M66,408 V444 A20,20 0 0 0 86,464 H221 V471 L239,459.5 L221,444 V448 H91 A8,8 0 0 1 83,440 V408 Z" fill="url(#g10)" fill-opacity="0.9" stroke="#68717a" stroke-width="1.4"/>
<linearGradient id="g11" gradientUnits="userSpaceOnUse" x1="66" y1="0" x2="83" y2="0"><stop offset="0" stop-color="#d3d69a"/><stop offset="0.5" stop-color="#f3f3ac"/><stop offset="1" stop-color="#e3e59f"/></linearGradient>
<rect x="66.7" y="408.7" width="15.6" height="39.5" fill="url(#g11)" fill-opacity="0.9"/>
<linearGradient id="g12" gradientUnits="userSpaceOnUse" x1="0" y1="538.5" x2="0" y2="556"><stop offset="0" stop-color="#eef1a4"/><stop offset="0.4" stop-color="#f3f5a6"/><stop offset="0.6" stop-color="#d8de9a"/><stop offset="1" stop-color="#cdd596"/></linearGradient>
<path d="M249,538.5 H92 V531 L72.5,547 L92,563 V556 H249 Z" fill="url(#g12)" fill-opacity="0.9" stroke="#68717a" stroke-width="1.4"/>
<rect x="71.5" y="547" width="7.5" height="19" fill="#2d5b96"/>
<linearGradient id="g13" gradientUnits="userSpaceOnUse" x1="65" y1="0" x2="81" y2="0"><stop offset="0" stop-color="#e2e69e"/><stop offset="0.5" stop-color="#f4f5aa"/><stop offset="1" stop-color="#d9dd98"/></linearGradient>
<path d="M65,565 H81 V609 H91 L73,626 L56,609 H65 Z" fill="url(#g13)" fill-opacity="0.9" stroke="#68717a" stroke-width="1.4"/>
<rect x="724" y="130.5" width="302" height="436" rx="13" fill="none" stroke="#5d7099" stroke-width="2" stroke-dasharray="2 2"/>
<rect x="620" y="226" width="112" height="25" fill="#fff"/>
<rect x="620" y="314" width="112" height="24" fill="#fff"/>
<text x="625" y="241" font-size="14" fill="#3c3c3c" font-weight="bold" text-anchor="start" textLength="104" lengthAdjust="spacingAndGlyphs">Bipolar electrode</text>
<text x="625" y="332.5" font-size="14" fill="#3c3c3c" font-weight="bold" text-anchor="start" textLength="104" lengthAdjust="spacingAndGlyphs">Bipolar electrode</text>
<rect x="770" y="131" width="214" height="18.7" fill="#797979"/>
<rect x="770" y="149.4" width="214" height="29.2" fill="#c5d6f0"/>
<rect x="770" y="178.3" width="214" height="21.3" fill="#e9b8b5"/>
<rect x="770" y="199.3" width="214" height="25.4" fill="#c5d6f0"/>
<rect x="770" y="224.4" width="214" height="18.7" fill="#797979"/>
<rect x="770" y="242.8" width="214" height="27.5" fill="#c5d6f0"/>
<rect x="770" y="270" width="214" height="22.1" fill="#e9b8b5"/>
<rect x="770" y="291.8" width="214" height="24.0" fill="#c5d6f0"/>
<rect x="770" y="315.5" width="214" height="18.8" fill="#797979"/>
<rect x="770" y="334" width="214" height="27.3" fill="#c5d6f0"/>
<rect x="770" y="361" width="214" height="23.9" fill="#e9b8b5"/>
<rect x="770" y="384.6" width="214" height="26.9" fill="#c5d6f0"/>
<rect x="770" y="411.2" width="214" height="19.6" fill="#797979"/>
<rect x="763" y="130" width="7" height="301" fill="#2d5b96"/>
<rect x="984" y="130" width="7.5" height="301" fill="#2d5b96"/>
<g stroke="#0a1e40" stroke-width="1.5" stroke-linejoin="round"><polygon points="808.0,159.1 815.9,157.0 823.9,157.0 831.8,157.0 839.8,157.0 847.7,157.0 855.6,157.0 863.6,157.0 871.5,157.0 879.4,157.0 887.4,157.0 895.3,157.0 903.2,157.0 911.2,157.0 919.1,157.0 927.1,157.0 935.0,159.1 935.0,165.4 927.1,167.5 919.1,167.5 911.2,167.5 903.2,167.5 895.3,167.5 887.4,167.5 879.4,167.5 871.5,167.5 863.6,167.5 855.6,167.5 847.7,167.5 839.8,167.5 831.8,167.5 823.9,167.5 815.9,167.5 808.0,165.4" fill="#0f2a55" stroke="none"/><polygon points="821.0,156.1 818.3,159.8 813.7,159.3 811.8,155.1 814.5,151.3 819.1,151.8" fill="#1865c0"/><polygon points="825.9,158.0 820.8,158.7 817.6,154.7 819.5,149.9 824.6,149.2 827.8,153.2" fill="#1f70cc"/><polygon points="834.5,159.1 829.8,160.2 826.5,156.7 827.9,152.1 832.6,151.0 835.9,154.5" fill="#1865c0"/><polygon points="843.0,158.9 838.2,159.0 835.6,154.9 837.8,150.7 842.7,150.5 845.3,154.6" fill="#145aa8"/><polygon points="848.6,159.6 844.3,158.5 843.1,154.2 846.2,151.0 850.5,152.1 851.7,156.4" fill="#145aa8"/><polygon points="855.0,159.8 851.7,156.8 852.6,152.4 856.8,151.0 860.2,154.0 859.2,158.4" fill="#1a5fb5"/><polygon points="867.5,155.3 865.2,159.3 860.6,159.3 858.3,155.3 860.6,151.3 865.2,151.3" fill="#1865c0"/><polygon points="874.9,157.7 874.3,152.8 878.3,149.8 882.9,151.8 883.4,156.7 879.4,159.7" fill="#145aa8"/><polygon points="885.6,160.2 882.0,156.8 883.2,151.9 888.0,150.5 891.6,154.0 890.4,158.9" fill="#1f70cc"/><polygon points="892.8,159.4 890.2,155.8 892.0,151.6 896.5,151.2 899.2,154.9 897.3,159.0" fill="#1a5fb5"/><polygon points="905.6,159.2 900.4,158.8 898.2,154.2 901.0,149.9 906.2,150.3 908.4,154.9" fill="#1865c0"/><polygon points="913.1,159.4 908.0,158.7 906.0,154.0 909.1,149.8 914.2,150.5 916.2,155.2" fill="#1a5fb5"/><polygon points="914.4,156.4 915.2,151.6 919.7,149.9 923.5,152.9 922.7,157.7 918.2,159.5" fill="#1a5fb5"/><polygon points="924.9,159.9 921.4,155.9 923.1,151.0 928.3,150.0 931.7,153.9 930.0,158.9" fill="#1a5fb5"/><polygon points="807.8,164.9 807.9,160.3 812.0,158.1 815.9,160.6 815.7,165.1 811.7,167.3" fill="#1f70cc"/><polygon points="816.2,165.8 814.1,161.4 816.8,157.3 821.8,157.6 824.0,162.1 821.2,166.2" fill="#145aa8"/><polygon points="822.3,163.4 823.1,158.5 827.8,156.7 831.6,159.9 830.8,164.8 826.2,166.5" fill="#145aa8"/><polygon points="831.2,165.4 831.1,160.1 835.6,157.4 840.3,159.9 840.4,165.3 835.8,168.0" fill="#1f70cc"/><polygon points="841.5,166.7 838.0,162.8 839.7,157.8 844.9,156.7 848.4,160.7 846.7,165.7" fill="#1f70cc"/><polygon points="847.8,162.2 849.6,157.9 854.2,157.2 857.2,160.9 855.4,165.3 850.7,165.9" fill="#1865c0"/><polygon points="862.9,164.0 859.0,166.5 854.9,164.4 854.7,159.7 858.6,157.2 862.7,159.3" fill="#145aa8"/><polygon points="871.8,164.3 867.3,166.4 863.3,163.5 863.8,158.6 868.2,156.6 872.2,159.4" fill="#1f70cc"/><polygon points="875.1,168.4 870.1,166.2 869.5,160.8 873.9,157.5 878.9,159.7 879.5,165.1" fill="#2676d0"/><polygon points="883.8,167.4 879.2,164.8 879.2,159.6 883.8,156.9 888.3,159.6 888.3,164.8" fill="#1f70cc"/><polygon points="887.3,165.2 885.9,160.7 889.1,157.2 893.7,158.3 895.1,162.8 891.9,166.2" fill="#2676d0"/><polygon points="898.4,168.0 894.7,164.2 896.1,159.2 901.2,157.9 904.9,161.7 903.5,166.7" fill="#1a5fb5"/><polygon points="904.9,166.7 902.4,161.9 905.3,157.4 910.7,157.6 913.2,162.4 910.3,167.0" fill="#145aa8"/><polygon points="913.5,165.5 911.6,161.2 914.4,157.4 919.1,157.9 921.0,162.2 918.2,166.0" fill="#2676d0"/><polygon points="920.9,166.9 917.8,162.7 919.9,157.9 925.1,157.3 928.2,161.5 926.1,166.3" fill="#2676d0"/><polygon points="927.5,164.5 927.9,160.1 931.9,158.2 935.5,160.7 935.2,165.1 931.2,167.0" fill="#1f70cc"/><polygon points="821.0,170.7 818.4,174.8 813.6,174.6 811.4,170.4 813.9,166.3 818.7,166.5" fill="#1865c0"/><polygon points="828.8,172.7 828.1,168.2 831.6,165.3 835.9,166.9 836.7,171.4 833.1,174.3" fill="#1865c0"/><polygon points="843.4,171.8 838.9,173.7 834.9,170.7 835.5,165.8 840.0,163.9 844.0,166.8" fill="#145aa8"/><polygon points="842.1,170.9 843.8,166.3 848.6,165.5 851.7,169.3 850.0,173.9 845.2,174.7" fill="#2676d0"/><polygon points="852.1,174.2 850.3,168.9 854.0,164.8 859.4,165.9 861.1,171.1 857.5,175.3" fill="#145aa8"/><polygon points="868.2,169.8 865.6,173.9 860.7,173.7 858.5,169.4 861.1,165.3 866.0,165.5" fill="#145aa8"/><polygon points="873.9,174.4 869.4,174.8 866.8,171.1 868.7,167.0 873.2,166.5 875.8,170.2" fill="#1f70cc"/><polygon points="879.5,176.1 874.4,173.9 873.7,168.4 878.2,165.1 883.3,167.3 883.9,172.8" fill="#1865c0"/><polygon points="888.1,174.3 883.4,172.2 882.9,167.1 887.1,164.1 891.8,166.2 892.3,171.3" fill="#1f70cc"/><polygon points="891.8,172.5 891.5,167.3 895.9,164.5 900.5,166.9 900.7,172.1 896.4,174.8" fill="#145aa8"/><polygon points="899.4,173.6 898.6,168.5 902.6,165.2 907.4,167.0 908.3,172.1 904.3,175.4" fill="#1f70cc"/><polygon points="914.7,172.6 910.0,173.8 906.7,170.3 908.0,165.7 912.7,164.4 916.1,167.9" fill="#1865c0"/><polygon points="922.1,174.2 916.8,173.8 914.5,169.0 917.5,164.6 922.8,165.0 925.2,169.8" fill="#2676d0"/><polygon points="924.7,175.1 922.1,170.7 924.5,166.2 929.7,166.1 932.4,170.5 929.9,175.0" fill="#2676d0"/></g>
<g fill="#dc0508" stroke="#260202" stroke-width="1.5"><polygon points="805.1,207.9 813.3,204.8 821.6,204.8 829.8,204.8 838.1,204.8 846.3,204.8 854.5,204.8 862.8,204.8 871.0,204.8 879.2,204.8 887.5,204.8 895.7,204.8 904.0,204.8 912.2,204.8 920.4,204.8 928.7,204.8 936.9,207.9 936.9,215.6 928.7,218.7 920.4,218.7 912.2,218.7 904.0,218.7 895.7,218.7 887.5,218.7 879.2,218.7 871.0,218.7 862.8,218.7 854.5,218.7 846.3,218.7 838.1,218.7 829.8,218.7 821.6,218.7 813.3,218.7 805.1,215.6" fill="#3a0505" stroke="none"/><circle cx="813.8" cy="204.3" r="4.3"/><circle cx="822.0" cy="203.8" r="3.7"/><circle cx="830.3" cy="203.9" r="3.9"/><circle cx="837.0" cy="203.1" r="4.3"/><circle cx="845.4" cy="204.3" r="4.3"/><circle cx="855.0" cy="203.8" r="4.3"/><circle cx="863.8" cy="204.1" r="4.3"/><circle cx="871.7" cy="203.7" r="4.2"/><circle cx="880.6" cy="203.7" r="3.9"/><circle cx="887.5" cy="203.6" r="3.7"/><circle cx="896.1" cy="203.6" r="4.1"/><circle cx="906.1" cy="202.7" r="4.3"/><circle cx="914.1" cy="203.9" r="4.3"/><circle cx="922.3" cy="204.4" r="3.7"/><circle cx="931.5" cy="202.8" r="4.1"/><circle cx="810.0" cy="211.4" r="4.4"/><circle cx="817.8" cy="212.5" r="3.7"/><circle cx="826.9" cy="211.5" r="4.3"/><circle cx="835.1" cy="211.8" r="4.3"/><circle cx="843.3" cy="211.6" r="4.1"/><circle cx="852.0" cy="212.3" r="4.0"/><circle cx="860.6" cy="211.8" r="4.4"/><circle cx="870.3" cy="211.4" r="3.9"/><circle cx="878.3" cy="212.0" r="4.3"/><circle cx="886.7" cy="212.4" r="4.1"/><circle cx="894.0" cy="210.9" r="3.8"/><circle cx="903.6" cy="212.0" r="4.3"/><circle cx="912.7" cy="212.0" r="4.2"/><circle cx="921.5" cy="212.1" r="3.8"/><circle cx="930.1" cy="212.2" r="3.8"/><circle cx="813.7" cy="220.6" r="4.2"/><circle cx="822.2" cy="220.4" r="4.1"/><circle cx="829.6" cy="219.8" r="3.9"/><circle cx="838.8" cy="220.7" r="3.7"/><circle cx="846.4" cy="219.2" r="4.3"/><circle cx="856.6" cy="219.8" r="3.7"/><circle cx="864.5" cy="220.7" r="4.4"/><circle cx="872.8" cy="219.2" r="4.2"/><circle cx="880.6" cy="219.0" r="3.7"/><circle cx="889.4" cy="220.7" r="3.8"/><circle cx="898.4" cy="219.0" r="4.2"/><circle cx="907.8" cy="219.3" r="3.7"/><circle cx="916.7" cy="220.5" r="4.2"/><circle cx="924.7" cy="220.3" r="4.0"/><circle cx="933.1" cy="220.7" r="4.2"/></g>
<g stroke="#0a1e40" stroke-width="1.5" stroke-linejoin="round"><polygon points="811.0,252.6 818.4,250.0 825.9,250.0 833.3,250.0 840.8,250.0 848.2,250.0 855.6,250.0 863.1,250.0 870.5,250.0 877.9,250.0 885.4,250.0 892.8,250.0 900.2,250.0 907.7,250.0 915.1,250.0 922.6,250.0 930.0,252.6 930.0,259.9 922.6,262.5 915.1,262.5 907.7,262.5 900.2,262.5 892.8,262.5 885.4,262.5 877.9,262.5 870.5,262.5 863.1,262.5 855.6,262.5 848.2,262.5 840.8,262.5 833.3,262.5 825.9,262.5 818.4,262.5 811.0,259.9" fill="#0f2a55" stroke="none"/><polygon points="831.3,249.5 827.6,253.4 822.4,252.1 820.9,246.9 824.7,243.0 829.9,244.4" fill="#1f70cc"/><polygon points="832.3,253.7 828.8,249.6 830.6,244.5 835.9,243.6 839.4,247.7 837.6,252.8" fill="#2676d0"/><polygon points="837.2,249.1 839.0,244.9 843.6,244.5 846.3,248.2 844.4,252.4 839.9,252.9" fill="#1f70cc"/><polygon points="852.8,253.2 848.0,252.4 846.2,247.8 849.4,244.1 854.2,244.9 855.9,249.4" fill="#1a5fb5"/><polygon points="857.0,252.7 854.1,249.0 855.9,244.6 860.6,244.0 863.5,247.7 861.7,252.1" fill="#1a5fb5"/><polygon points="862.0,248.3 864.3,243.7 869.4,243.3 872.3,247.6 870.0,252.2 864.9,252.6" fill="#145aa8"/><polygon points="878.3,251.4 872.9,252.9 868.9,249.0 870.3,243.6 875.7,242.1 879.6,246.0" fill="#1f70cc"/><polygon points="886.8,247.6 884.4,251.7 879.6,251.7 877.3,247.6 879.7,243.5 884.4,243.5" fill="#1a5fb5"/><polygon points="885.9,250.4 885.1,245.1 889.2,241.8 894.2,243.7 895.0,248.9 890.9,252.3" fill="#1a5fb5"/><polygon points="894.1,251.6 893.5,246.1 898.0,242.8 903.1,245.0 903.7,250.5 899.2,253.8" fill="#2676d0"/><polygon points="906.3,251.6 902.9,248.7 903.6,244.3 907.9,242.7 911.3,245.6 910.6,250.0" fill="#1f70cc"/><polygon points="916.4,252.8 912.0,252.0 910.5,247.7 913.5,244.4 917.9,245.2 919.3,249.5" fill="#1a5fb5"/><polygon points="922.4,253.7 917.4,251.6 916.7,246.3 921.0,243.1 925.9,245.1 926.6,250.4" fill="#1865c0"/><polygon points="814.1,261.6 810.8,258.3 811.9,253.8 816.5,252.5 819.8,255.8 818.6,260.3" fill="#1a5fb5"/><polygon points="821.8,260.5 817.7,258.0 817.8,253.2 822.0,250.9 826.1,253.4 826.0,258.1" fill="#1865c0"/><polygon points="827.5,260.1 825.6,255.9 828.4,252.2 833.0,252.7 834.8,256.9 832.1,260.6" fill="#2676d0"/><polygon points="833.2,259.4 833.6,254.1 838.4,251.8 842.8,254.8 842.4,260.1 837.6,262.4" fill="#2676d0"/><polygon points="851.3,258.4 847.7,261.6 843.1,260.0 842.2,255.2 845.8,252.1 850.4,253.7" fill="#1f70cc"/><polygon points="858.8,256.9 856.0,260.8 851.3,260.4 849.3,256.0 852.1,252.1 856.8,252.6" fill="#1865c0"/><polygon points="858.8,256.4 860.9,252.4 865.3,252.3 867.7,256.1 865.6,260.0 861.1,260.1" fill="#1a5fb5"/><polygon points="865.5,256.5 866.9,252.1 871.4,251.0 874.6,254.4 873.3,258.8 868.7,259.9" fill="#2676d0"/><polygon points="874.9,258.6 874.7,253.3 879.2,250.4 883.9,252.9 884.2,258.2 879.7,261.1" fill="#1865c0"/><polygon points="881.5,255.4 883.8,251.2 888.6,251.1 891.1,255.2 888.7,259.4 883.9,259.5" fill="#1865c0"/><polygon points="889.8,259.1 890.4,254.1 895.0,252.1 899.1,255.1 898.5,260.2 893.8,262.2" fill="#1865c0"/><polygon points="901.0,261.6 897.9,257.1 900.2,252.2 905.7,251.7 908.8,256.2 906.4,261.1" fill="#1865c0"/><polygon points="909.8,261.8 906.3,258.6 907.3,254.0 911.7,252.6 915.2,255.7 914.3,260.3" fill="#1a5fb5"/><polygon points="918.6,262.0 914.0,260.3 913.3,255.5 917.0,252.4 921.6,254.1 922.4,258.9" fill="#1f70cc"/><polygon points="922.9,256.2 924.4,251.9 928.9,251.0 931.9,254.5 930.4,258.9 925.8,259.7" fill="#1a5fb5"/><polygon points="824.4,266.0 821.1,270.2 815.7,269.4 813.7,264.4 817.1,260.1 822.4,260.9" fill="#2676d0"/><polygon points="829.6,265.4 831.4,260.3 836.6,259.3 840.1,263.3 838.3,268.4 833.1,269.4" fill="#1a5fb5"/><polygon points="842.7,269.7 838.0,267.5 837.5,262.4 841.8,259.4 846.5,261.5 847.0,266.7" fill="#145aa8"/><polygon points="853.2,268.2 848.8,269.6 845.4,266.5 846.4,262.0 850.8,260.6 854.2,263.8" fill="#1865c0"/><polygon points="853.4,268.7 852.8,263.2 857.2,260.0 862.2,262.2 862.8,267.6 858.4,270.9" fill="#1865c0"/><polygon points="860.7,266.5 861.6,261.2 866.7,259.3 870.9,262.8 869.9,268.1 864.8,270.0" fill="#1865c0"/><polygon points="878.5,266.0 875.8,270.1 870.9,269.7 868.8,265.4 871.5,261.3 876.4,261.7" fill="#145aa8"/><polygon points="879.8,268.8 876.8,264.8 878.8,260.2 883.7,259.6 886.7,263.6 884.8,268.2" fill="#1865c0"/><polygon points="885.7,265.7 886.6,260.9 891.2,259.2 895.0,262.4 894.2,267.2 889.5,268.9" fill="#2676d0"/><polygon points="902.2,267.9 897.7,268.8 894.7,265.3 896.2,261.0 900.7,260.1 903.7,263.5" fill="#1f70cc"/><polygon points="907.1,268.5 902.9,266.8 902.3,262.4 905.8,259.6 910.0,261.3 910.7,265.8" fill="#1a5fb5"/><polygon points="926.6,267.5 921.7,269.5 917.6,266.3 918.4,261.1 923.2,259.2 927.3,262.4" fill="#145aa8"/></g>
<g fill="#dc0508" stroke="#260202" stroke-width="1.5"><polygon points="809.1,299.3 817.3,296.3 825.6,296.3 833.8,296.3 842.1,296.3 850.3,296.3 858.5,296.3 866.8,296.3 875.0,296.3 883.2,296.3 891.5,296.3 899.7,296.3 908.0,296.3 916.2,296.3 924.4,296.3 932.7,296.3 940.9,299.3 940.9,306.7 932.7,309.7 924.4,309.7 916.2,309.7 908.0,309.7 899.7,309.7 891.5,309.7 883.2,309.7 875.0,309.7 866.8,309.7 858.5,309.7 850.3,309.7 842.1,309.7 833.8,309.7 825.6,309.7 817.3,309.7 809.1,306.7" fill="#3a0505" stroke="none"/><circle cx="818.8" cy="295.0" r="3.9"/><circle cx="825.8" cy="294.9" r="4.0"/><circle cx="835.1" cy="296.0" r="3.8"/><circle cx="843.2" cy="295.1" r="4.1"/><circle cx="852.4" cy="295.9" r="3.9"/><circle cx="859.5" cy="294.9" r="3.9"/><circle cx="869.2" cy="295.1" r="3.9"/><circle cx="877.0" cy="295.7" r="4.3"/><circle cx="886.1" cy="294.5" r="3.8"/><circle cx="894.7" cy="294.5" r="3.9"/><circle cx="902.9" cy="295.1" r="4.3"/><circle cx="911.6" cy="294.8" r="3.9"/><circle cx="921.2" cy="294.4" r="4.0"/><circle cx="928.6" cy="295.4" r="3.9"/><circle cx="938.8" cy="294.3" r="4.2"/><circle cx="813.8" cy="302.7" r="4.4"/><circle cx="821.6" cy="302.7" r="3.9"/><circle cx="832.1" cy="303.5" r="4.3"/><circle cx="840.8" cy="302.6" r="3.8"/><circle cx="848.8" cy="302.1" r="4.3"/><circle cx="856.6" cy="302.3" r="4.1"/><circle cx="865.0" cy="303.1" r="4.4"/><circle cx="874.2" cy="303.4" r="3.9"/><circle cx="882.6" cy="302.9" r="3.9"/><circle cx="890.7" cy="302.3" r="3.8"/><circle cx="899.2" cy="303.2" r="4.3"/><circle cx="906.8" cy="303.7" r="4.1"/><circle cx="915.2" cy="303.3" r="4.0"/><circle cx="925.0" cy="302.1" r="4.2"/><circle cx="933.2" cy="303.2" r="3.7"/><circle cx="816.9" cy="310.7" r="4.3"/><circle cx="826.7" cy="311.0" r="4.4"/><circle cx="834.3" cy="311.0" r="3.9"/><circle cx="843.0" cy="310.6" r="4.3"/><circle cx="850.6" cy="310.2" r="3.8"/><circle cx="859.3" cy="311.2" r="3.9"/><circle cx="868.2" cy="311.8" r="4.0"/><circle cx="877.3" cy="311.8" r="3.7"/><circle cx="885.7" cy="311.7" r="4.2"/><circle cx="894.8" cy="310.1" r="3.8"/><circle cx="901.6" cy="310.4" r="3.7"/><circle cx="910.3" cy="310.3" r="3.7"/><circle cx="920.5" cy="311.6" r="3.8"/><circle cx="929.2" cy="310.8" r="4.1"/><circle cx="938.3" cy="311.0" r="3.9"/></g>
<g stroke="#0a1e40" stroke-width="1.5" stroke-linejoin="round"><polygon points="814.0,344.1 821.7,341.5 829.4,341.5 837.1,341.5 844.8,341.5 852.4,341.5 860.1,341.5 867.8,341.5 875.5,341.5 883.2,341.5 890.9,341.5 898.6,341.5 906.2,341.5 913.9,341.5 921.6,341.5 929.3,341.5 937.0,344.1 937.0,351.4 929.3,354.0 921.6,354.0 913.9,354.0 906.2,354.0 898.6,354.0 890.9,354.0 883.2,354.0 875.5,354.0 867.8,354.0 860.1,354.0 852.4,354.0 844.8,354.0 837.1,354.0 829.4,354.0 821.7,354.0 814.0,351.4" fill="#0f2a55" stroke="none"/><polygon points="822.6,343.4 818.2,341.6 817.5,336.9 821.2,334.0 825.6,335.8 826.3,340.5" fill="#2676d0"/><polygon points="830.2,344.7 825.4,342.6 824.8,337.4 829.0,334.3 833.8,336.3 834.4,341.5" fill="#2676d0"/><polygon points="839.1,343.2 834.7,343.2 832.4,339.3 834.7,335.5 839.1,335.5 841.3,339.3" fill="#1a5fb5"/><polygon points="851.2,341.6 846.5,344.4 841.7,341.7 841.6,336.2 846.3,333.4 851.1,336.1" fill="#145aa8"/><polygon points="848.4,340.0 850.6,335.8 855.3,335.6 857.8,339.6 855.6,343.8 850.9,344.0" fill="#1f70cc"/><polygon points="864.2,343.8 859.1,343.6 856.7,339.0 859.5,334.7 864.6,335.0 866.9,339.5" fill="#2676d0"/><polygon points="870.1,344.9 865.7,342.0 866.1,336.7 870.8,334.3 875.2,337.3 874.9,342.6" fill="#1f70cc"/><polygon points="881.6,341.7 877.3,344.7 872.6,342.4 872.2,337.3 876.5,334.3 881.2,336.5" fill="#145aa8"/><polygon points="882.6,343.4 881.1,338.6 884.5,335.0 889.4,336.1 890.9,340.9 887.5,344.6" fill="#2676d0"/><polygon points="891.8,343.8 888.8,339.6 890.9,334.9 896.0,334.4 899.0,338.5 897.0,343.2" fill="#1865c0"/><polygon points="910.5,344.5 906.0,342.0 906.0,336.9 910.4,334.3 914.8,336.8 914.9,341.9" fill="#2676d0"/><polygon points="915.0,344.3 912.0,340.6 913.8,336.2 918.5,335.6 921.4,339.3 919.6,343.7" fill="#2676d0"/><polygon points="927.7,343.8 922.9,343.5 920.7,339.1 923.4,335.1 928.2,335.4 930.4,339.7" fill="#145aa8"/><polygon points="812.0,347.5 814.5,342.9 819.8,342.7 822.6,347.2 820.1,351.8 814.8,352.0" fill="#1a5fb5"/><polygon points="829.9,350.0 826.0,352.7 821.7,350.6 821.4,345.8 825.3,343.2 829.6,345.3" fill="#1865c0"/><polygon points="837.2,352.6 831.8,352.7 829.1,348.0 831.7,343.3 837.1,343.3 839.8,347.9" fill="#1f70cc"/><polygon points="845.8,351.9 840.7,354.1 836.3,350.8 836.9,345.2 842.0,343.1 846.5,346.4" fill="#1865c0"/><polygon points="853.4,350.5 849.1,351.6 846.0,348.4 847.2,344.2 851.5,343.1 854.6,346.3" fill="#1a5fb5"/><polygon points="857.9,353.1 853.6,349.9 854.2,344.6 859.1,342.5 863.4,345.7 862.8,351.0" fill="#1a5fb5"/><polygon points="866.6,352.0 861.5,350.4 860.4,345.3 864.3,341.7 869.3,343.3 870.5,348.4" fill="#145aa8"/><polygon points="877.6,347.4 875.0,351.6 870.0,351.4 867.7,347.0 870.3,342.8 875.2,343.0" fill="#2676d0"/><polygon points="883.1,352.5 878.4,351.5 876.9,346.9 880.1,343.3 884.9,344.3 886.4,348.9" fill="#1f70cc"/><polygon points="889.6,353.6 884.7,351.0 884.5,345.4 889.1,342.4 894.1,345.0 894.3,350.6" fill="#1a5fb5"/><polygon points="897.7,351.9 893.8,349.1 894.2,344.3 898.6,342.3 902.5,345.1 902.1,349.9" fill="#145aa8"/><polygon points="909.8,348.2 906.5,351.7 901.8,350.6 900.4,346.0 903.7,342.5 908.5,343.6" fill="#145aa8"/><polygon points="910.1,351.3 909.9,346.1 914.3,343.3 918.9,345.7 919.1,351.0 914.7,353.7" fill="#2676d0"/><polygon points="921.7,352.3 917.5,349.4 917.9,344.3 922.5,342.0 926.8,344.9 926.4,350.1" fill="#1f70cc"/><polygon points="934.4,347.9 931.2,351.6 926.4,350.7 924.8,346.0 928.0,342.3 932.8,343.3" fill="#1a5fb5"/><polygon points="934.3,352.7 931.0,348.1 933.3,343.0 938.9,342.5 942.2,347.0 939.8,352.1" fill="#1865c0"/><polygon points="826.3,357.0 823.7,361.5 818.4,361.4 815.9,356.9 818.6,352.4 823.8,352.4" fill="#1a5fb5"/><polygon points="845.1,362.2 841.2,358.7 842.3,353.5 847.4,351.8 851.3,355.4 850.2,360.6" fill="#1a5fb5"/><polygon points="854.1,360.5 849.2,359.2 847.8,354.3 851.3,350.7 856.3,351.9 857.7,356.8" fill="#1a5fb5"/><polygon points="865.4,359.2 861.5,361.4 857.6,359.1 857.7,354.6 861.6,352.4 865.5,354.7" fill="#1a5fb5"/><polygon points="867.4,361.2 864.5,356.7 867.0,351.9 872.3,351.6 875.2,356.1 872.8,360.9" fill="#1f70cc"/><polygon points="881.2,357.9 877.0,360.3 872.8,357.8 872.9,353.0 877.1,350.6 881.2,353.1" fill="#1a5fb5"/><polygon points="882.8,360.0 880.0,356.3 881.7,352.0 886.3,351.4 889.1,355.1 887.4,359.4" fill="#2676d0"/><polygon points="894.8,361.2 889.5,359.4 888.5,353.9 892.7,350.3 897.9,352.1 899.0,357.6" fill="#1865c0"/><polygon points="904.9,359.6 900.4,362.1 896.0,359.4 896.1,354.3 900.6,351.9 905.0,354.5" fill="#2676d0"/><polygon points="904.4,357.8 906.4,353.1 911.5,352.4 914.6,356.5 912.6,361.2 907.5,361.9" fill="#1f70cc"/><polygon points="916.0,361.1 912.3,357.4 913.7,352.3 918.7,351.0 922.4,354.7 921.0,359.7" fill="#2676d0"/><polygon points="937.1,357.6 933.2,359.8 929.3,357.5 929.4,353.0 933.3,350.8 937.2,353.1" fill="#145aa8"/></g>
<g fill="#dc0508" stroke="#260202" stroke-width="1.5"><polygon points="809.1,394.6 817.4,391.3 825.7,391.3 834.0,391.3 842.3,391.3 850.6,391.3 858.9,391.3 867.2,391.3 875.5,391.3 883.8,391.3 892.1,391.3 900.4,391.3 908.7,391.3 917.0,391.3 925.3,391.3 933.6,391.3 941.9,394.6 941.9,402.4 933.6,405.7 925.3,405.7 917.0,405.7 908.7,405.7 900.4,405.7 892.1,405.7 883.8,405.7 875.5,405.7 867.2,405.7 858.9,405.7 850.6,405.7 842.3,405.7 834.0,405.7 825.7,405.7 817.4,405.7 809.1,402.4" fill="#3a0505" stroke="none"/><circle cx="817.3" cy="389.8" r="4.3"/><circle cx="826.3" cy="390.9" r="4.0"/><circle cx="835.2" cy="389.9" r="4.0"/><circle cx="843.4" cy="389.7" r="3.7"/><circle cx="852.0" cy="389.4" r="3.8"/><circle cx="861.7" cy="390.2" r="4.0"/><circle cx="869.6" cy="389.9" r="3.8"/><circle cx="878.8" cy="390.2" r="3.9"/><circle cx="886.6" cy="390.7" r="4.2"/><circle cx="897.2" cy="390.3" r="4.0"/><circle cx="905.5" cy="389.9" r="4.1"/><circle cx="914.1" cy="390.4" r="3.8"/><circle cx="923.1" cy="390.6" r="3.7"/><circle cx="930.9" cy="389.2" r="4.2"/><circle cx="812.7" cy="397.9" r="4.3"/><circle cx="822.1" cy="399.0" r="4.2"/><circle cx="830.0" cy="397.8" r="3.9"/><circle cx="838.4" cy="398.2" r="4.3"/><circle cx="847.3" cy="398.7" r="4.3"/><circle cx="855.6" cy="398.3" r="4.3"/><circle cx="865.8" cy="397.6" r="4.2"/><circle cx="874.5" cy="398.3" r="4.4"/><circle cx="881.4" cy="398.1" r="4.1"/><circle cx="890.4" cy="398.3" r="4.1"/><circle cx="899.1" cy="397.9" r="4.2"/><circle cx="907.5" cy="399.3" r="4.1"/><circle cx="915.6" cy="398.5" r="4.4"/><circle cx="924.5" cy="399.3" r="3.8"/><circle cx="933.6" cy="399.2" r="4.3"/><circle cx="942.3" cy="399.4" r="4.2"/><circle cx="818.0" cy="406.6" r="4.4"/><circle cx="826.5" cy="407.8" r="4.1"/><circle cx="834.4" cy="406.6" r="4.4"/><circle cx="842.6" cy="406.9" r="4.2"/><circle cx="852.1" cy="406.9" r="4.2"/><circle cx="860.4" cy="407.5" r="4.3"/><circle cx="868.2" cy="407.7" r="4.3"/><circle cx="876.8" cy="406.3" r="4.3"/><circle cx="885.3" cy="407.7" r="3.8"/><circle cx="893.4" cy="407.1" r="3.8"/><circle cx="902.9" cy="406.9" r="4.2"/><circle cx="911.4" cy="406.2" r="4.2"/><circle cx="919.2" cy="407.3" r="4.1"/><circle cx="928.4" cy="406.2" r="4.0"/><circle cx="937.6" cy="406.3" r="4.4"/></g>
<path d="M845,104.5 H886.5 V440 H907 L865,480 L825,440 H845 Z" fill="#fbf59b" fill-opacity="0.9" stroke="#6e7a90" stroke-width="2"/>
<text x="889.5" y="145.6" font-size="14" fill="#fff" font-weight="bold" text-anchor="start" textLength="93" lengthAdjust="spacingAndGlyphs">Current collector</text>
<text x="889.5" y="238.9" font-size="14" fill="#fff" font-weight="bold" text-anchor="start" textLength="93" lengthAdjust="spacingAndGlyphs">Current collector</text>
<text x="889.5" y="331" font-size="14" fill="#fff" font-weight="bold" text-anchor="start" textLength="93" lengthAdjust="spacingAndGlyphs">Current collector</text>
<text x="889.5" y="425.6" font-size="14" fill="#fff" font-weight="bold" text-anchor="start" textLength="93" lengthAdjust="spacingAndGlyphs">Current collector</text>
<text x="890" y="167.3" font-size="15.5" fill="#fff" font-weight="bold" text-anchor="start" textLength="45" lengthAdjust="spacingAndGlyphs">Anode</text>
<text x="921" y="192.4" font-size="14" fill="#fbe9e8" font-weight="bold" text-anchor="start" textLength="59.5" lengthAdjust="spacingAndGlyphs">Separator</text>
<text x="886" y="215.7" font-size="15" fill="#fde0e0" font-weight="bold" text-anchor="start" textLength="52" lengthAdjust="spacingAndGlyphs">Cathode</text>
<text x="890" y="259.8" font-size="15.5" fill="#fff" font-weight="bold" text-anchor="start" textLength="45" lengthAdjust="spacingAndGlyphs">Anode</text>
<text x="921" y="286.3" font-size="14" fill="#fbe9e8" font-weight="bold" text-anchor="start" textLength="59.5" lengthAdjust="spacingAndGlyphs">Separator</text>
<text x="886" y="306.2" font-size="15" fill="#fde0e0" font-weight="bold" text-anchor="start" textLength="52" lengthAdjust="spacingAndGlyphs">Cathode</text>
<text x="890" y="352.6" font-size="15.5" fill="#fff" font-weight="bold" text-anchor="start" textLength="45" lengthAdjust="spacingAndGlyphs">Anode</text>
<text x="921" y="377.5" font-size="14" fill="#fbe9e8" font-weight="bold" text-anchor="start" textLength="59.5" lengthAdjust="spacingAndGlyphs">Separator</text>
<text x="886" y="404" font-size="15" fill="#fde0e0" font-weight="bold" text-anchor="start" textLength="52" lengthAdjust="spacingAndGlyphs">Cathode</text>
<text x="939.5" y="175" font-size="10" fill="#2563c9" font-weight="bold" text-anchor="start" textLength="44" lengthAdjust="spacingAndGlyphs">Electrolyte</text>
<path d="M994,141 C1012,141 1017,143 1017,151 V179.5 C1017,186.5 1020,188.5 1026,188.5 H1041 M1026,188.5 C1020,188.5 1017,190.5 1017,197.5 V223 C1017,231 1012,233 994,233" fill="none" stroke="#93a8cc" stroke-width="1.3"/>
<path d="M994,233 C1012,233 1017,235 1017,243 V271.7 C1017,278.7 1020,280.7 1026,280.7 H1041 M1026,280.7 C1020,280.7 1017,282.7 1017,289.7 V314.5 C1017,322.5 1012,324.5 994,324.5" fill="none" stroke="#93a8cc" stroke-width="1.3"/>
<path d="M994,324.5 C1012,324.5 1017,326.5 1017,334.5 V363.5 C1017,370.5 1020,372.5 1026,372.5 H1041 M1026,372.5 C1020,372.5 1017,374.5 1017,381.5 V406 C1017,414 1012,416 994,416" fill="none" stroke="#93a8cc" stroke-width="1.3"/>
<text x="1046.5" y="194.0" font-size="14" fill="#2a2a2a" font-weight="bold" text-anchor="start" textLength="33" lengthAdjust="spacingAndGlyphs">Cell 1</text>
<text x="1046.5" y="286.2" font-size="14" fill="#2a2a2a" font-weight="bold" text-anchor="start" textLength="33" lengthAdjust="spacingAndGlyphs">Cell 2</text>
<text x="1046.5" y="378.0" font-size="14" fill="#2a2a2a" font-weight="bold" text-anchor="start" textLength="33" lengthAdjust="spacingAndGlyphs">Cell 3</text>
<path d="M760,209 C750,209 746,211 746,218 V227.6 C746,233.6 744,235.6 738,235.6 M746,227.6 C746,233.6 748,235.6 746,235.6 M738,235.6 C744,235.6 746,237.6 746,243.6 V258.3 C746,265.3 750,267.3 760,267.3" fill="none" stroke="#93a8cc" stroke-width="1.3"/>
<path d="M760,297 C750,297 746,299 746,306 V319 C746,325 744,327 738,327 M746,319 C746,325 748,327 746,327 M738,327 C744,327 746,329 746,335 V346.4 C746,353.4 750,355.4 760,355.4" fill="none" stroke="#93a8cc" stroke-width="1.3"/>
<rect x="792" y="482" width="152" height="31" fill="#fbe5be"/>
<text x="822" y="502" font-size="16" fill="#262626" font-weight="bold" text-anchor="start" textLength="102" lengthAdjust="spacingAndGlyphs">Larger current</text>
<rect x="935" y="525.5" width="153.5" height="32" fill="#fbe5be"/>
<text x="961" y="546" font-size="16.5" fill="#262626" font-weight="bold" text-anchor="start" textLength="103" lengthAdjust="spacingAndGlyphs">More compact</text>
</g></svg>
</body></html>
